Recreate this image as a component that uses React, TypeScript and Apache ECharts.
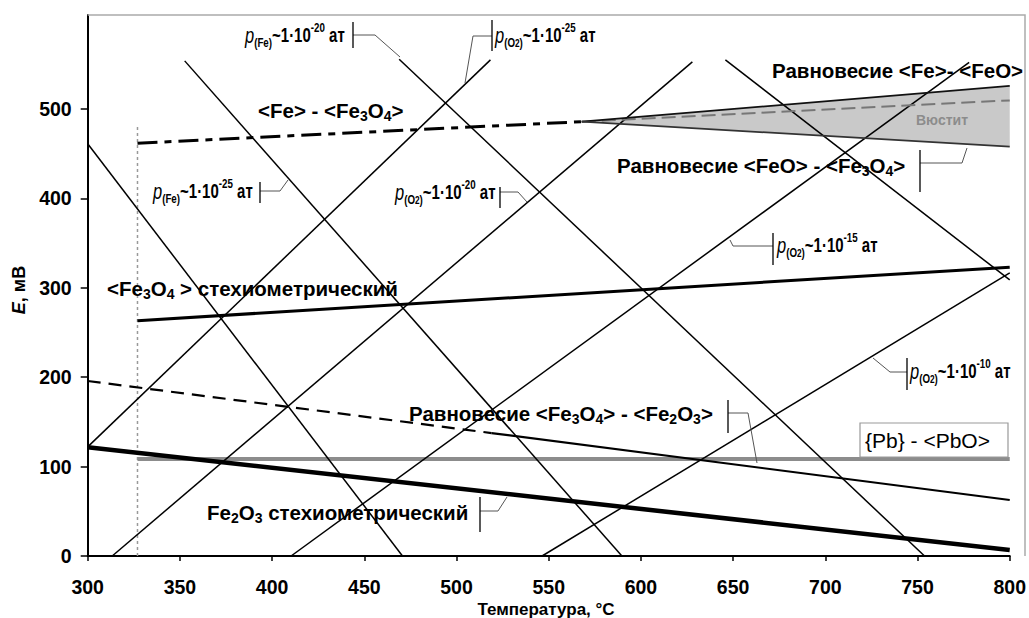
import React, { useEffect, useRef } from "react";
import * as echarts from "echarts";

// ---------- data (temperature °C, E mV) ----------
const xTicks = [300, 350, 400, 450, 500, 550, 600, 650, 700, 750, 800];
const yTicks = [0, 100, 200, 300, 400, 500];

// p(Fe) isobars (descending)
const isoFeLeft = [[300, 461], [470.7, 0]];
const isoFe25 = [[352.6, 553.7], [589.7, 0]];
const isoFe20 = [[468.9, 555.5], [753.8, 0]];
const isoFeRight = [[645.8, 554.8], [800, 308.7]];
// p(O2) isobars (ascending)
const isoO25 = [[300, 122], [518.4, 554.8]];
const isoO20 = [[313.3, 0], [627.9, 552.6]];
const isoO15 = [[410.3, 0], [778, 552]];
const isoO10 = [[546.4, 0], [800, 316.7]];
// equilibria
const feFe3o4 = [[327, 461.6], [567.9, 485.7]];
const feFe3o4Meta = [[567.9, 485.7], [800, 509.5]];
const feFeo = [[567.9, 485.7], [800, 525.7]];
const feoFe3o4 = [[567.9, 485.7], [800, 457.8]];
const fe3o4Stoich = [[327, 263.2], [800, 323]];
const fe3o4Fe2o3Dashed = [[300, 195.7], [519, 137.5]];
const fe3o4Fe2o3Solid = [[519, 137.5], [800, 62.6]];
const fe2o3Stoich = [[300, 121.6], [800, 6.7]];
const pbPbo = [[327, 108.5], [800, 108.5]];
const meltLimit = [[327, 0], [327, 482]];
const wustite = [...feFeo, ...[...feoFe3o4].reverse()];

const F = '"Liberation Sans", Arial, sans-serif';

function line(data: number[][], width: number, color = "#000", type: any = "solid", z = 3) {
  return {
    type: "line",
    data,
    symbol: "none",
    silent: true,
    z,
    lineStyle: { color, width, type },
  };
}

const richBold = {
  b: { fontFamily: F, fontSize: 20.5, fontWeight: "bold", fill: "#000", lineHeight: 26 },
  s: { fontFamily: F, fontSize: 14, fontWeight: "bold", fill: "#000", lineHeight: 14, verticalAlign: "bottom" },
};
const richP = {
  p: { fontFamily: F, fontSize: 22, fontStyle: "italic", fontWeight: "normal", fill: "#000", lineHeight: 28 },
  m: { fontFamily: F, fontSize: 20, fontWeight: "bold", fill: "#000", lineHeight: 28 },
  sub: { fontFamily: F, fontSize: 13, fontWeight: "bold", fill: "#000", lineHeight: 15, verticalAlign: "bottom" },
  sub2: { fontFamily: F, fontSize: 11, fontWeight: "bold", fill: "#000", lineHeight: 10, verticalAlign: "bottom" },
  sup: { fontFamily: F, fontSize: 13, fontWeight: "bold", fill: "#000", lineHeight: 12, verticalAlign: "top" },
};

function txt(x: number, y: number, text: string, rich: any, scaleX = 1) {
  return {
    type: "text",
    x,
    y,
    scaleX,
    z: 50,
    silent: true,
    style: { text, rich, textAlign: "left", textVerticalAlign: "middle", fill: "#000" },
  };
}
function callout(pts: number[][], bx: number, by1: number, by2: number) {
  return [
    { type: "polyline", z: 40, silent: true, shape: { points: pts }, style: { stroke: "#555", lineWidth: 1, fill: null } },
    { type: "line", z: 40, silent: true, shape: { x1: bx, y1: by1, x2: bx, y2: by2 }, style: { stroke: "#000", lineWidth: 1.3 } },
  ];
}

const pFe = (exp: string) => `{p|p}{sub|(Fe)}{m|~1·10}{sup|${exp}}{m| ат}`;
const pO = (exp: string) => `{p|p}{sub|(O}{sub2|2}{sub|)}{m|~1·10}{sup|${exp}}{m| ат}`;
const PX = 0.75;

export default function App() {
  const ref = useRef<HTMLDivElement>(null);
  useEffect(() => {
    if (!ref.current) return;
    const chart = echarts.init(ref.current, null, { renderer: "svg" });
    const axisLabelStyle = { color: "#000", fontSize: 19.5, fontWeight: "bold", fontFamily: F };
    chart.setOption({
      animation: false,
      backgroundColor: "#fff",
      grid: { left: 87.7, right: 16.7, top: 15, bottom: 62, containLabel: false },
      xAxis: {
        type: "value",
        min: 300,
        max: 800,
        axisLine: { lineStyle: { color: "#000", width: 2 } },
        axisTick: { length: 5, customValues: xTicks, lineStyle: { color: "#000", width: 1.5 } },
        axisLabel: { ...axisLabelStyle, margin: 21, customValues: xTicks },
        splitLine: { show: false },
      },
      yAxis: {
        type: "value",
        min: 0,
        max: 605,
        axisLine: { show: true, lineStyle: { color: "#000", width: 2 } },
        axisTick: { show: true, length: 7, customValues: yTicks, lineStyle: { color: "#000", width: 1.5 } },
        axisLabel: { ...axisLabelStyle, margin: 16, customValues: yTicks },
        splitLine: { show: false },
      },
      series: [
        {
          type: "custom",
          silent: true,
          z: 1,
          data: [0],
          renderItem: (_p: any, api: any) => ({
            type: "polygon",
            shape: { points: wustite.map((p) => api.coord(p)) },
            style: { fill: "#c9c9c9" },
          }),
        },
        line(meltLimit, 1.5, "#999", [3, 3], 2),
        line(pbPbo, 4, "#8c8c8c", "solid", 2),
        line(isoFeLeft, 1.5),
        line(isoFe25, 1.5),
        line(isoFe20, 1.5),
        line(isoFeRight, 1.5),
        line(isoO25, 1.5),
        line(isoO20, 1.5),
        line(isoO15, 1.5),
        line(isoO10, 1.5),
        line(feFe3o4, 3, "#000", [20, 7, 7, 7], 4),
        line(feFe3o4Meta, 2, "#777", [14, 6], 4),
        line(feFeo, 1.8, "#111", "solid", 4),
        line(feoFe3o4, 1.8, "#333", "solid", 4),
        line(fe3o4Stoich, 3, "#000", "solid", 4),
        line(fe3o4Fe2o3Dashed, 2.2, "#000", [13, 8], 4),
        line(fe3o4Fe2o3Solid, 2.2, "#000", "solid", 4),
        line(fe2o3Stoich, 4.5, "#000", "solid", 4),
      ],
      graphic: [
        { type: "polyline", silent: true, z: 30, shape: { points: [[87.7, 15], [1025, 15], [1025, 556]] }, style: { stroke: "#aaa", lineWidth: 1.5, fill: null } },
        { type: "rect", silent: true, z: 45, shape: { x: 860, y: 423, width: 148, height: 34 }, style: { fill: "#fff", stroke: "#999", lineWidth: 1.2 } },
        ...callout([[353, 35], [375, 35], [400, 57]], 353, 22, 48),
        ...callout([[492, 36], [473, 36], [465, 83]], 492, 20, 51),
        ...callout([[260, 191], [280, 191], [288, 180]], 260, 182, 203),
        ...callout([[500, 192], [518, 192], [527, 202]], 500, 187, 208),
        ...callout([[920, 163], [962, 163], [967, 148]], 920, 150, 192),
        ...callout([[773, 246], [733, 246], [730, 240]], 773, 233, 265),
        ...callout([[907, 372], [890, 372], [873, 358]], 907, 358, 390),
        ...callout([[728, 413], [748, 413], [757, 463]], 728, 400, 433),
        ...callout([[480, 511], [498, 511], [507, 497]], 480, 497, 532),
        txt(245, 35, pFe("-20"), richP, PX),
        txt(495, 35, pO("-25"), richP, PX),
        txt(153, 191, pFe("-25"), richP, PX),
        txt(395, 192, pO("-20"), richP, PX),
        txt(777, 245, pO("-15"), richP, PX),
        txt(910, 371, pO("-10"), richP, PX),
        txt(258, 110, "{b|<Fe> - <Fe}{s|3}{b|O}{s|4}{b|>}", richBold),
        txt(772, 70, "{b|Равновесие <Fe>- <FeO>}", richBold),
        txt(617, 165, "{b|Равновесие <FeO> - <Fe}{s|3}{b|O}{s|4}{b|>}", richBold),
        txt(107, 288, "{b|<Fe}{s|3}{b|O}{s|4}{b| > стехиометрический}", richBold),
        txt(409, 413, "{b|Равновесие <Fe}{s|3}{b|O}{s|4}{b|> - <Fe}{s|2}{b|O}{s|3}{b|>}", richBold),
        txt(207, 512, "{b|Fe}{s|2}{b|O}{s|3}{b| стехиометрический}", richBold),
        { type: "text", x: 865, y: 440, z: 50, silent: true, style: { text: "{Pb} - <PbO>", fontFamily: F, fontSize: 21, fontWeight: "normal", fill: "#000", textAlign: "left", textVerticalAlign: "middle" } },
        { type: "text", x: 942, y: 120, z: 50, silent: true, style: { text: "Вюстит", fontFamily: F, fontSize: 14, fontWeight: "bold", fill: "#8c8c8c", textAlign: "center", textVerticalAlign: "middle" } },
        {
          type: "text", x: 19, y: 290, rotation: Math.PI / 2, z: 50, silent: true,
          style: {
            text: "{i|E}{n|, мВ}", textAlign: "center", textVerticalAlign: "middle",
            rich: {
              i: { fontFamily: F, fontSize: 18, fontWeight: "bold", fontStyle: "italic", fill: "#000" },
              n: { fontFamily: F, fontSize: 18, fontWeight: "bold", fill: "#000" },
            },
          },
        },
        { type: "text", x: 546, y: 609, z: 50, silent: true, style: { text: "Температура, °C", fontFamily: F, fontSize: 17, fontWeight: "bold", fill: "#000", textAlign: "center", textVerticalAlign: "middle" } },
      ],
    });
    return () => chart.dispose();
  }, []);
  return <div ref={ref} style={{ position: "absolute", left: 0, top: 0, width: 1029, height: 618 }} />;
}
